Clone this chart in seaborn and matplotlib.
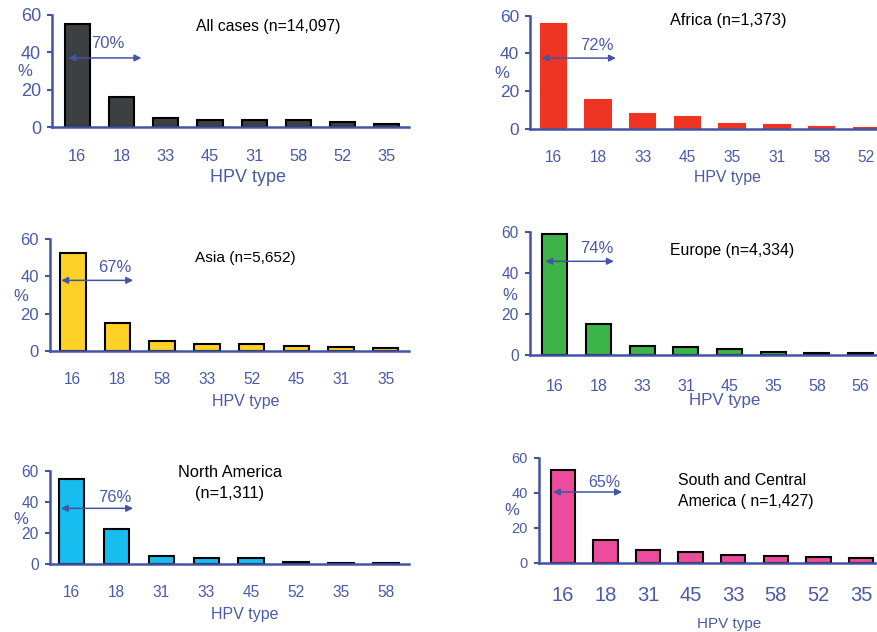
import matplotlib
matplotlib.use("Agg")
import matplotlib.pyplot as plt
import seaborn as sns
import pandas as pd

sns.set_theme(style="white")
plt.rcParams["font.family"] = ["Liberation Sans", "DejaVu Sans"]

W, H = 878, 632
AXIS_BLUE = "#4354a4"
TEXT_BLUE = "#4a5aa8"

# HPV type distribution among cervical cancer cases, by region
all_types = ["16", "18", "33", "45", "31", "58", "52", "35"]
all_pct = [55.2, 15.9, 4.6, 3.9, 3.6, 3.6, 2.7, 1.8]

africa_types = ["16", "18", "33", "45", "35", "31", "58", "52"]
africa_pct = [55.4, 15.2, 7.6, 6.0, 2.5, 1.8, 0.9, 0.3]

asia_types = ["16", "18", "58", "33", "52", "45", "31", "35"]
asia_pct = [52.5, 15.0, 5.7, 3.9, 3.9, 2.7, 2.1, 1.8]

europe_types = ["16", "18", "33", "31", "45", "35", "58", "56"]
europe_pct = [58.9, 15.2, 4.2, 3.9, 2.8, 1.6, 1.0, 0.8]

namerica_types = ["16", "18", "31", "33", "45", "52", "35", "58"]
namerica_pct = [54.9, 22.5, 4.9, 4.1, 3.9, 1.3, 0.9, 0.5]

scamerica_types = ["16", "18", "31", "45", "33", "58", "52", "35"]
scamerica_pct = [53.1, 13.0, 7.2, 5.9, 4.6, 3.8, 3.2, 2.7]

# share of cases covered by HPV 16 + 18
combined = ["70%", "72%", "67%", "74%", "76%", "65%"]

titles = ["All cases (n=14,097)", "Africa (n=1,373)", "Asia (n=5,652)",
          "Europe (n=4,334)", "North America\n(n=1,311)",
          "South and Central\nAmerica ( n=1,427)"]
colors = ["#3d4043", "#ee3524", "#fdd125", "#3db449", "#17bdee", "#ec4c9b"]

series = [
    (all_types, all_pct),
    (africa_types, africa_pct),
    (asia_types, asia_pct),
    (europe_types, europe_pct),
    (namerica_types, namerica_pct),
    (scamerica_types, scamerica_pct),
]

# panel geometry in pixels: axis x0, x1, y(60), y(0), xlim
layout = [
    dict(x0=52, x1=409, yt=15, yb=127, xlim=(-0.57, 7.5)),
    dict(x0=530, x1=878, yt=15.7, yb=128.7, xlim=(-0.52, 7.26)),
    dict(x0=50, x1=409, yt=239, yb=351.3, xlim=(-0.51, 7.52)),
    dict(x0=530, x1=878, yt=231.7, yb=355, xlim=(-0.57, 7.4)),
    dict(x0=50, x1=409, yt=470.7, yb=564, xlim=(-0.48, 7.51)),
    dict(x0=539, x1=878, yt=457.7, yb=562.7, xlim=(-0.56, 7.40)),
]

# arrow (x0, x1, y) and label position (x, y) in data units
arrows = [
    (-0.20, 1.45, 37.0, 0.70, 44.5),
    (-0.26, 1.40, 37.5, 0.97, 44.4),
    (-0.26, 1.35, 37.9, 0.95, 44.9),
    (-0.22, 1.35, 45.6, 0.97, 51.6),
    (-0.24, 1.37, 35.8, 0.96, 42.9),
    (-0.23, 1.39, 40.4, 0.97, 45.9),
]
pct_label_size = [12, 12, 12, 12, 12, 11.5]

# title placement (px x, px y, ha, size), "%" label, "HPV type" label, font sizes
title_pos = [(268, 26, "center", 11.3), (728, 21, "center", 11.7),
             (245, 257.7, "center", 11.1), (731.7, 251, "center", 11.4),
             (230, 483, "center", 11.8), (678.3, 491, "left", 11.4)]
pct_pos = [(25, 71), (501.7, 73.3), (21, 296), (510, 295), (21, 519), (511.7, 510.7)]
xlab_pos = [(248, 178, 13), (727, 178, 11.4), (246, 401.7, 11.5),
            (725, 400, 12.2), (245, 614, 11.5), (729.3, 624.3, 11)]
xtick_size = [11.8, 11.2, 11.2, 11.5, 11.2, 14.5]
xtick_pad = [15.5, 15.5, 15, 17, 15, 17]
ytick_size = [13, 12.5, 12, 11.2, 11.2, 10.5]

fig = plt.figure(figsize=(W / 100, H / 100), dpi=100)
fig.patch.set_facecolor("white")


def fx(px):
    return px / W


def fy(py):
    return 1 - py / H


for i, ((types, pct), lay) in enumerate(zip(series, layout)):
    ax = fig.add_axes([fx(lay["x0"]), fy(lay["yb"]),
                       (lay["x1"] - lay["x0"]) / W, (lay["yb"] - lay["yt"]) / H])
    df = pd.DataFrame({"type": types, "pct": pct})
    edge = colors[i] if i == 1 else "black"
    sns.barplot(data=df, x="type", y="pct", order=types, color=colors[i],
                saturation=1, width=0.57, edgecolor=edge, linewidth=1.5, ax=ax)
    ax.set_xlim(*lay["xlim"])
    ax.set_ylim(0, 60)
    ax.set_yticks([0, 20, 40, 60])
    ax.set_facecolor("none")
    for s in ["top", "right"]:
        ax.spines[s].set_visible(False)
    for s in ["left", "bottom"]:
        ax.spines[s].set_color(AXIS_BLUE)
        ax.spines[s].set_linewidth(1.8)
    ax.tick_params(axis="y", direction="out", length=3.5, width=1.5,
                   color=AXIS_BLUE, labelcolor=TEXT_BLUE,
                   labelsize=ytick_size[i], pad=4.5, left=True)
    ax.tick_params(axis="x", length=0, labelcolor=TEXT_BLUE,
                   labelsize=xtick_size[i], pad=xtick_pad[i])
    ax.set_xlabel("")
    ax.set_ylabel("")

    a0, a1, ay, lx, ly = arrows[i]
    ax.annotate("", xy=(a1, ay), xytext=(a0, ay),
                arrowprops=dict(arrowstyle="<|-|>", color=AXIS_BLUE, lw=1.1,
                                mutation_scale=10, shrinkA=0, shrinkB=0))
    ax.text(lx, ly, combined[i], color=TEXT_BLUE, fontsize=pct_label_size[i],
            ha="center", va="center")

    tx, ty, ha, ts = title_pos[i]
    fig.text(fx(tx), fy(ty), titles[i], ha=ha, va="center", fontsize=ts,
             color="black", linespacing=1.45)
    px_, py_ = pct_pos[i]
    fig.text(fx(px_), fy(py_), "%", ha="center", va="center",
             fontsize=12, color=TEXT_BLUE)
    lx_, ly_, ls = xlab_pos[i]
    fig.text(fx(lx_), fy(ly_), "HPV type", ha="center", va="center",
             fontsize=ls, color=TEXT_BLUE)

fig.savefig("out.png", dpi=100)
